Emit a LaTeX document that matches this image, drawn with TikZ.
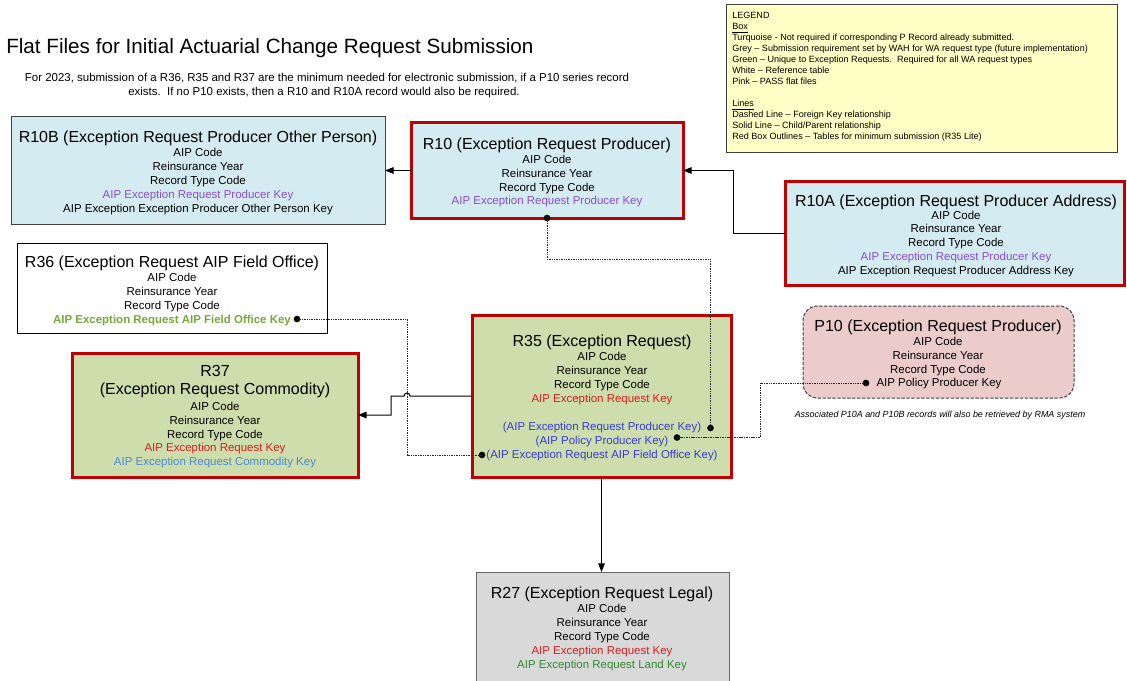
\documentclass[tikz,border=0pt]{standalone}
\usepackage{fontspec}
\setmainfont{Liberation Sans}
\usetikzlibrary{arrows.meta}
\definecolor{lblue}{HTML}{D4EBF1}
\definecolor{lgreen}{HTML}{CDDDAC}
\definecolor{lpink}{HTML}{ECCBCB}
\definecolor{lgrey}{HTML}{D9D9D9}
\definecolor{lyellow}{HTML}{FFFFC6}
\definecolor{redline}{HTML}{C00000}
\definecolor{bgrey}{HTML}{404040}
\definecolor{tpurple}{HTML}{8A4EC8}
\definecolor{tred}{HTML}{D42020}
\definecolor{tblue}{HTML}{3C3CD0}
\definecolor{tlblue}{HTML}{4A8AD8}
\definecolor{tolive}{HTML}{78A83C}
\definecolor{tgreen}{HTML}{2E8B2E}
\begin{document}
\begin{tikzpicture}[x=0.75pt,y=-0.75pt,
  box/.style={draw=bgrey,line width=0.75pt,inner sep=0pt,outer sep=0pt},
  redbox/.style={draw=redline,line width=2.25pt,inner sep=0pt,outer sep=0pt},
  ttl/.style={anchor=base,inner sep=0pt,font=\fontsize{12}{14}\selectfont},
  fld/.style={anchor=base,inner sep=0pt,font=\fontsize{8.6}{10}\selectfont},
  leg/.style={anchor=base west,inner sep=0pt,font=\fontsize{6.8}{8}\selectfont},
  dot/.style={circle,fill=black,inner sep=0pt,minimum size=5pt},
  arr/.style={draw=black,line width=0.75pt,-{Triangle[length=6.5pt,width=5pt]}},
  fk/.style={draw=black!85,line width=0.75pt,dash pattern=on 1.1pt off 0.7pt}]
\useasboundingbox (0,0) rectangle (1127,681);
\clip (0,0) rectangle (1127,681);

% title
\node[anchor=base west,inner sep=0pt,font=\fontsize{15.5}{18}\selectfont] (title) at (6,54) {Flat Files for Initial Actuarial Change Request Submission};
\node[anchor=base,inner sep=0pt,font=\fontsize{8.6}{10}\selectfont] (sub1) at (327,81.5) {For 2023, submission of a R36, R35 and R37 are the minimum needed for electronic submission, if a P10 series record};
\node[anchor=base,inner sep=0pt,font=\fontsize{8.6}{10}\selectfont] (sub2) at (324,95.5) {exists.\ \ If no P10 exists, then a R10 and R10A record would also be required.};

% legend
\node[box,fill=lyellow,minimum width=293.25pt,minimum height=111pt] (legend) at (921.5,79) {};
\node[leg] (lg1) at (732,19) {LEGEND};
\node[leg] (lg2) at (732,30) {\underline{Box}};
\node[leg] (lg3) at (732,41) {Turquoise - Not required if corresponding P Record already submitted.};
\node[leg] (lg4) at (732,52) {Grey – Submission requirement set by WAH for WA request type (future implementation)};
\node[leg] (lg5) at (732,63) {Green – Unique to Exception Requests.\ \ Required for all WA request types};
\node[leg] (lg6) at (732,74) {White – Reference table};
\node[leg] (lg7) at (732,85) {Pink – PASS flat files};
\node[leg] (lg8) at (732,107) {\underline{Lines}};
\node[leg] (lg9) at (732,118) {Dashed Line – Foreign Key relationship};
\node[leg] (lg10) at (732,129) {Solid Line – Child/Parent relationship};
\node[leg] (lg11) at (732,140) {Red Box Outlines – Tables for minimum submission (R35 Lite)};

% R10B
\node[box,fill=lblue,minimum width=280.5pt,minimum height=80.25pt] (r10b) at (198,170.5) {};
\node[ttl] (r10b0) at (198,142.5) {R10B (Exception Request Producer Other Person)};
\node[fld] (r10b1) at (198,156.5) {AIP Code};
\node[fld] (r10b2) at (198,170.4) {Reinsurance Year};
\node[fld] (r10b3) at (198,184.3) {Record Type Code};
\node[fld,text=tpurple] (r10b4) at (198,198.2) {AIP Exception Request Producer Key};
\node[fld] (r10b5) at (198,212.1) {AIP Exception Exception Producer Other Person Key};

% R10
\node[redbox,fill=lblue,minimum width=204pt,minimum height=71.25pt] (r10) at (547,170.5) {};
\node[ttl] (r100) at (547,149.5) {R10 (Exception Request Producer)};
\node[fld] (r101) at (547,163.5) {AIP Code};
\node[fld] (r102) at (547,177.3) {Reinsurance Year};
\node[fld] (r103) at (547,191.1) {Record Type Code};
\node[fld,text=tpurple] (r104) at (547,204.9) {AIP Exception Request Producer Key};

% R10A
\node[redbox,fill=lblue,minimum width=254.25pt,minimum height=78pt] (r10a) at (954.5,233) {};
\node[ttl] (r10a0) at (956,206) {R10A (Exception Request Producer Address)};
\node[fld] (r10a1) at (956,219) {AIP Code};
\node[fld] (r10a2) at (956,232.8) {Reinsurance Year};
\node[fld] (r10a3) at (956,246.6) {Record Type Code};
\node[fld,text=tpurple] (r10a4) at (956,260.4) {AIP Exception Request Producer Key};
\node[fld] (r10a5) at (956,274.2) {AIP Exception Request Producer Address Key};

% R36
\node[box,draw=black,fill=white,minimum width=232.5pt,minimum height=67.5pt] (r36) at (172,288) {};
\node[ttl] (r360) at (172,267.5) {R36 (Exception Request AIP Field Office)};
\node[fld] (r361) at (172,281) {AIP Code};
\node[fld] (r362) at (172,295) {Reinsurance Year};
\node[fld] (r363) at (172,309) {Record Type Code};
\node[fld,text=tolive,font=\fontsize{8.6}{10}\selectfont\bfseries] (r364) at (172,323) {AIP Exception Request AIP Field Office Key};

% R37
\node[redbox,fill=lgreen,minimum width=214.5pt,minimum height=93pt] (r37) at (215,415) {};
\node[ttl] (r370) at (215,376) {R37};
\node[ttl] (r37t) at (215,394.5) {(Exception Request Commodity)};
\node[fld] (r371) at (215,410.5) {AIP Code};
\node[fld] (r372) at (215,424.3) {Reinsurance Year};
\node[fld] (r373) at (215,438.1) {Record Type Code};
\node[fld,text=tred] (r374) at (215,451.9) {AIP Exception Request Key};
\node[fld,text=tlblue] (r375) at (215,465.7) {AIP Exception Request Commodity Key};

% R35
\node[redbox,fill=lgreen,minimum width=194.25pt,minimum height=121.5pt] (r35) at (601.5,396) {};
\node[ttl] (r350) at (602,346) {R35 (Exception Request)};
\node[fld] (r351) at (602,360.5) {AIP Code};
\node[fld] (r352) at (602,374.5) {Reinsurance Year};
\node[fld] (r353) at (602,388.5) {Record Type Code};
\node[fld,text=tred] (r354) at (602,402.5) {AIP Exception Request Key};
\node[fld,text=tblue] (r355) at (602,430) {(AIP Exception Request Producer Key)};
\node[fld,text=tblue] (r356) at (602,444) {(AIP Policy Producer Key)};
\node[fld,text=tblue] (r357) at (602,458) {(AIP Exception Request AIP Field Office Key)};

% P10
\node[draw=bgrey,line width=0.75pt,dash pattern=on 2.5pt off 1.2pt,rounded corners=11pt,fill=lpink,inner sep=0pt,minimum width=203.25pt,minimum height=69pt] (p10) at (938.5,352) {};
\node[ttl] (p100) at (938,331.5) {P10 (Exception Request Producer)};
\node[fld] (p101) at (938,345.5) {AIP Code};
\node[fld] (p102) at (938,359.3) {Reinsurance Year};
\node[fld] (p103) at (938,373.1) {Record Type Code};
\node[fld] (p104) at (939,386.9) {AIP Policy Producer Key};
\node[anchor=base,inner sep=0pt,font=\fontsize{6.7}{8}\selectfont\itshape] (p10note) at (940,417.5) {Associated P10A and P10B records will also be retrieved by RMA system};

% R27
\node[box,draw=black!60,fill=lgrey,minimum width=189.75pt,minimum height=96pt] (r27) at (602.5,636) {};
\node[ttl] (r270) at (602,598) {R27 (Exception Request Legal)};
\node[fld] (r271) at (602,612) {AIP Code};
\node[fld] (r272) at (602,626) {Reinsurance Year};
\node[fld] (r273) at (602,640) {Record Type Code};
\node[fld,text=tred] (r274) at (602,654) {AIP Exception Request Key};
\node[fld,text=tgreen] (r275) at (602,668) {AIP Exception Request Land Key};

% dots
\node[dot] (d10) at (r10.south) {};
\node[dot] (d35p) at (710.5,428) {};
\node[dot] (d35q) at (677,437.5) {};
\node[dot] (d35f) at (482,455) {};
\node[dot] (d36) at (297,319) {};
\node[dot] (dp10) at (866,383) {};

% solid connectors
\draw[arr] (r10.west) -- (r10b.east);
\draw[arr] (r10a.west) -- ++(-52,0) |- (r10.east);
\draw[arr] (r35.west) -- ++(-62,0) arc[start angle=0,end angle=180,radius=2.25pt] -- ++(-13,0) |- (r37.east);
\draw[arr] (r35.south) -- (r35.south |- r27.north);

% dashed foreign key connectors
\draw[fk] (d36.center) -- ++(110,0) |- (d35f.center);
\draw[fk] (d10.center) -- ++(0,41) -| (d35p.center);
\draw[fk] (dp10.center) -- ++(-106,0) |- (d35q.center);
\end{tikzpicture}
\end{document}
